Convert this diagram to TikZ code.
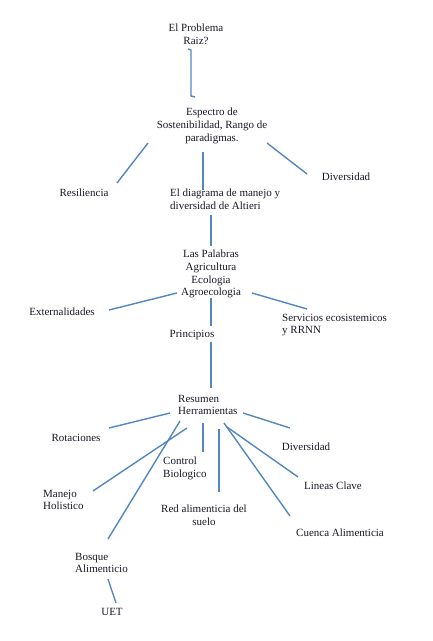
\documentclass[tikz,border=0pt]{standalone}
\usepackage{fontspec}
\setmainfont{Liberation Serif}
\usepackage{tikz}
\usetikzlibrary{positioning, calc}
\definecolor{linkBlue}{RGB}{84, 134, 192}
\definecolor{textDark}{RGB}{25, 25, 40}

\begin{document}
\begin{tikzpicture}[
    x=1pt, y=-1pt,
    lbl/.style={inner sep=0pt, text=textDark, font=\fontsize{11}{12.8}\selectfont, align=center},
    lblleft/.style={lbl, align=left, anchor=west},
    link/.style={draw=linkBlue, line width=1.4pt},
  ]
    \fill[white] (0,0) rectangle (432,641);
    \useasboundingbox (0,0) rectangle (432,641);

    % top of the tree
    \node[lbl] (prob) at (196,34) {El Problema\\Raiz?};
    \node[lbl] (esp) at (212,126) {Espectro de\\Sostenibilidad, Rango de\\paradigmas.};
    \node[lbl] (resil) at (84,193) {Resiliencia};
    \node[lbl] (divA) at (346,177) {Diversidad};
    \node[lblleft] (alt) at (170,199) {El diagrama de manejo y\\diversidad de Altieri};
    \node[lbl] (pal) at (211,274) {Las Palabras\\Agricultura\\Ecologia\\Agroecologia};
    \node[lbl] (ext) at (62,312) {Externalidades};
    \node[lblleft] (serv) at (282,325) {Servicios ecosistemicos\\y RRNN};
    \node[lbl] (prin) at (192,335) {Principios};

    % herramientas
    \node[lblleft] (resu) at (178,405) {Resumen\\Herramientas};
    \node[lbl] (rot) at (76,438) {Rotaciones};
    \node[lbl] (divB) at (306,447) {Diversidad};
    \node[lblleft] (ctrl) at (163,468) {Control\\Biologico};
    \node[lbl] (lin) at (333,486) {Lineas Clave};
    \node[lblleft] (man) at (43,500) {Manejo\\Holistico};
    \node[lbl] (red) at (204,515) {Red alimenticia del\\suelo};
    \node[lbl] (cue) at (340,533) {Cuenca Alimenticia};
    \node[lblleft] (bos) at (75,563) {Bosque\\Alimenticio};
    \node[lbl] (uet) at (112,612) {UET};

    % connectors
    \draw[link] ([shift={(-8,15)}]prob.center) -- ++(3,1) -- ([shift={(-21,-30)}]esp.center) -- ++(4,1);
    \draw[link] ([shift={(-64,17)}]esp.center) -- ([shift={(33,-10)}]resil.center);
    \draw[link] ([shift={(-9,26)}]esp.center) -- ([shift={(33,-9)}]alt.west);
    \draw[link] ([shift={(55,17)}]esp.center) -- ([shift={(-39,-3)}]divA.center);
    \draw[link] ([shift={(41,16)}]alt.west) -- ([shift={(0,-28)}]pal.center);
    \draw[link] ([shift={(-34,19)}]pal.center) -- ([shift={(47,-2)}]ext.center);
    \draw[link] ([shift={(0,24)}]pal.center) -- ([shift={(19,-9)}]prin.center);
    \draw[link] ([shift={(41,19)}]pal.center) -- ([shift={(25,-16)}]serv.west);
    \draw[link] ([shift={(19,7)}]prin.center) -- ([shift={(33,-17)}]resu.west);

    \draw[link] ([shift={(-8,8)}]resu.west) -- ([shift={(33,-10)}]rot.center);
    \draw[link] ([shift={(65,8)}]resu.west) -- ([shift={(-16,-19)}]divB.center);
    \draw[link] ([shift={(9,23)}]resu.west) -- ([shift={(50,-9)}]man.west);
    \draw[link] ([shift={(2,16)}]resu.west) -- ([shift={(33,-24)}]bos.west);
    \draw[link] ([shift={(25,18)}]resu.west) -- ([shift={(40,-16)}]ctrl.west);
    \draw[link] ([shift={(41,24)}]resu.west) -- ([shift={(15,-23)}]red.center);
    \draw[link] ([shift={(49,22)}]resu.west) -- ([shift={(-35,-9)}]lin.center);
    \draw[link] ([shift={(46,18)}]resu.west) -- ([shift={(-50,-17)}]cue.center);
    \draw[link] ([shift={(33,16)}]bos.west) -- ([shift={(4,-9)}]uet.center);
  \end{tikzpicture}
\end{document}
